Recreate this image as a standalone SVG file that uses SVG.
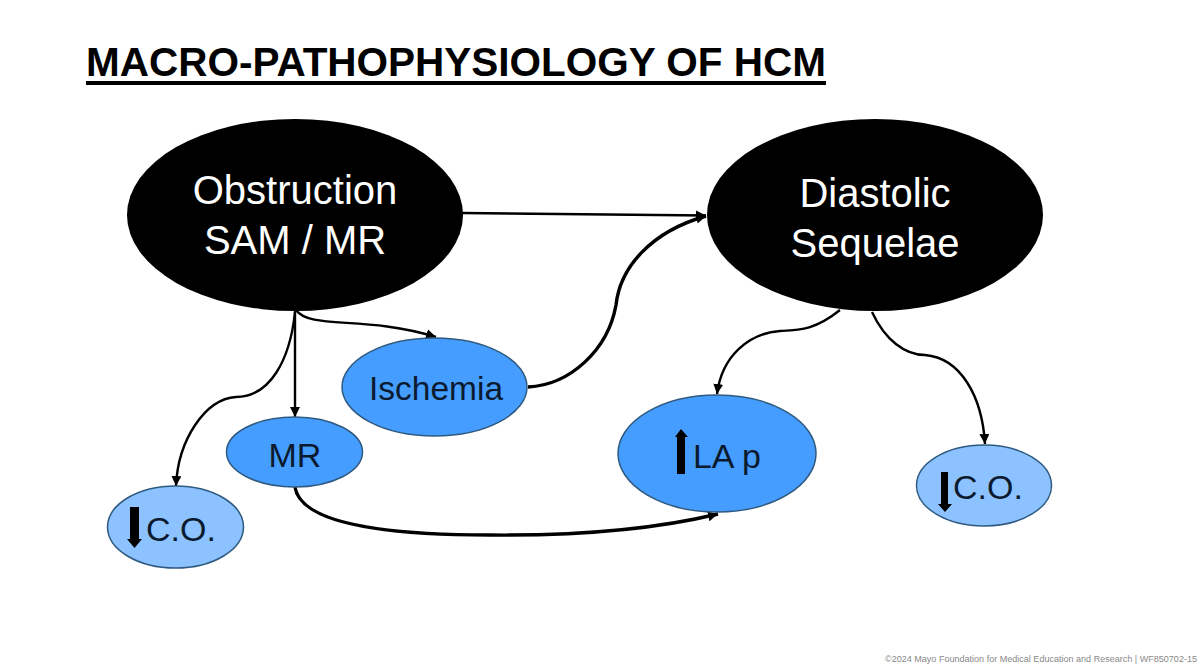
<svg xmlns="http://www.w3.org/2000/svg" width="1200" height="666" viewBox="0 0 1200 666">
<style>
text{font-family:"Liberation Sans",Arial,sans-serif;text-anchor:middle}
.big{fill:#fff;font-size:40px}
.small{fill:#0b1a2e;font-size:34px}
.e1{fill:#000}
.e2{fill:#459eff;stroke:#2f5a80;stroke-width:1.5}
.e3{fill:#8cc2ff;stroke:#2f5a80;stroke-width:1.5}
.c{fill:none;stroke:#000;stroke-width:2.4}
.t{stroke-width:3.4}
.ar{fill:#000}
</style>
<defs>
<marker id="a" markerUnits="userSpaceOnUse" markerWidth="12" markerHeight="12" refX="10" refY="5" orient="auto"><path d="M0 0L10 5L0 10Z" fill="#000"/></marker>
</defs>
<rect width="1200" height="666" fill="#fff"/>
<text x="456" y="76" style="font-size:41px;font-weight:bold;fill:#000" textLength="740" lengthAdjust="spacingAndGlyphs">MACRO-PATHOPHYSIOLOGY OF HCM</text>
<rect x="86" y="81" width="740" height="4" fill="#000"/>
<g id="connectors">
<path class="c" marker-end="url(#a)" d="M462 213L706 215.500"/>
<path class="c t" marker-end="url(#a)" d="M528 387C570 385 608 350 616 305C620 268 650 232 706 216"/>
<path class="c" marker-end="url(#a)" d="M296 310C310 330 365 315 436 337"/>
<path class="c" marker-end="url(#a)" d="M295 310L295 417"/>
<path class="c" marker-end="url(#a)" d="M295 312C290 360 270 397 236 397C205 399 178 440 176 486"/>
<path class="c t" marker-end="url(#a)" d="M295 487C300 520 370 535 490 535C590 536 660 528 718 514"/>
<path class="c" marker-end="url(#a)" d="M840 310C815 330 800 330 780 331C750 333 722 355 717 394"/>
<path class="c" marker-end="url(#a)" d="M872 312C885 340 905 355 925 355C960 358 982 395 985 444"/>
</g>
<g id="obstruction"><ellipse class="e1" cx="295" cy="215" rx="168" ry="96"/><text class="big" x="295" y="204">Obstruction</text><text class="big" x="295" y="254">SAM / MR</text></g>
<g id="diastolic"><ellipse class="e1" cx="875" cy="215" rx="168" ry="96"/><text class="big" x="875" y="207">Diastolic</text><text class="big" x="875" y="257">Sequelae</text></g>
<g id="ischemia"><ellipse class="e2" cx="434.500" cy="387" rx="92.500" ry="49"/><text class="small" x="436" y="400" style="font-size:33.500px">Ischemia</text></g>
<g id="mr"><ellipse class="e2" cx="294.500" cy="452" rx="68" ry="35"/><text class="small" x="295" y="467">MR</text></g>
<g id="lap"><ellipse class="e2" cx="717" cy="453.500" rx="99" ry="58.500"/><path class="ar" d="M677 474V437H675L681 429L688 437H685V474Z"/><text class="small" x="727" y="468">LA p</text></g>
<g id="co-left"><ellipse class="e3" cx="175.500" cy="527" rx="68" ry="41"/><path class="ar" d="M130 507H139V539H142L134.500 548L127 539H130Z"/><text class="small" x="181" y="541">C.O.</text></g>
<g id="co-right"><ellipse class="e3" cx="984" cy="485.500" rx="67.500" ry="40.500"/><path class="ar" d="M941 472H948V504H952L945 512L938 504H941Z"/><text class="small" x="988" y="499">C.O.</text></g>
<text x="1041" y="662" style="font-size:8.500px;fill:#888" textLength="312" lengthAdjust="spacingAndGlyphs">©2024 Mayo Foundation for Medical Education and Research  |  WF850702-15</text>
</svg>
